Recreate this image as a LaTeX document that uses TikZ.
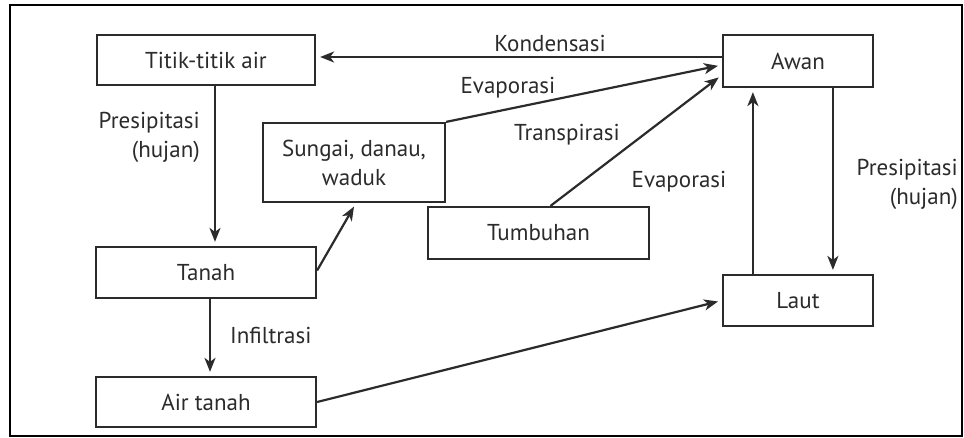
\documentclass[tikz,border=0pt]{standalone}
\usepackage{fontspec}
\setmainfont{PT Sans}
\usetikzlibrary{arrows.meta,calc}
\definecolor{ink}{HTML}{2B2B2B}
\begin{document}
\begin{tikzpicture}[x=1pt,y=-1pt,
  txt/.style={text=ink,font=\fontsize{23}{29}\selectfont},
  box/.style={txt,draw=ink,line width=2.2pt,inner sep=0pt,align=center},
  flow/.style={draw=ink,line width=2.2pt,-{Stealth[length=14pt,width=11pt,inset=4pt]},shorten >=4pt},
  lbl/.style={txt,inner sep=0pt}
]
\useasboundingbox (0,0) rectangle (964,437);
\fill[white] (0,0) rectangle (964,437);
\draw[black,line width=2.5pt] (10,5) rectangle (962,436);

\node[box,minimum width=218pt,minimum height=50pt] (titik) at (206,60) {Titik-titik air};
\node[box,minimum width=182pt,minimum height=79pt] (sungai) at (354,162.5) {Sungai, danau,\\waduk};
\node[box,minimum width=220pt,minimum height=51pt] (tanah) at (206,272.5) {Tanah};
\node[box,minimum width=220pt,minimum height=50pt] (airtanah) at (206,402) {Air tanah};
\node[box,minimum width=221pt,minimum height=52pt] (tumbuhan) at (538.5,233) {Tumbuhan};
\node[box,minimum width=150pt,minimum height=52pt] (awan) at (798,61) {Awan};
\node[box,minimum width=150pt,minimum height=51pt] (laut) at (798,300.5) {Laut};

% connectors
\draw[flow] ([yshift=4pt]awan.west) -- ([yshift=3pt]titik.east);
\draw[flow] (sungai.north east) -- ([yshift=-4pt]awan.west);
\draw[flow] ([xshift=12pt]tumbuhan.north) -- ([yshift=-14pt]awan.west);
\draw[flow] ([xshift=9pt]titik.south) -- ([xshift=9pt]tanah.north);
\draw[flow] ([yshift=2pt]tanah.east) -- ([xshift=2pt]sungai.south);
\draw[flow] ([xshift=4pt]tanah.south) -- ([xshift=4pt]airtanah.north);
\draw[flow] (airtanah.east) -- (laut.west);
\draw[flow] ($(laut.north west)+(31,0)$) -- ($(awan.south west)+(31,0)$);
\draw[flow] ($(awan.south west)+(111,0)$) -- ($(laut.north west)+(111,0)$);

% labels
\node[lbl] (lkond) at (550,43) {Kondensasi};
\node[lbl] (levap1) at (508,88) {Evaporasi};
\node[lbl] (ltrans) at (567,135) {Transpirasi};
\node[lbl] (levap2) at (679,182) {Evaporasi};
\node[lbl,align=right,anchor=east] (lpres1) at (200,137) {Presipitasi\\(hujan)};
\node[lbl,align=right,anchor=east] (lpres2) at (958,184) {Presipitasi\\(hujan)};
\node[lbl,anchor=west] (linf) at (230,335) {Infiltrasi};
\end{tikzpicture}
\end{document}
